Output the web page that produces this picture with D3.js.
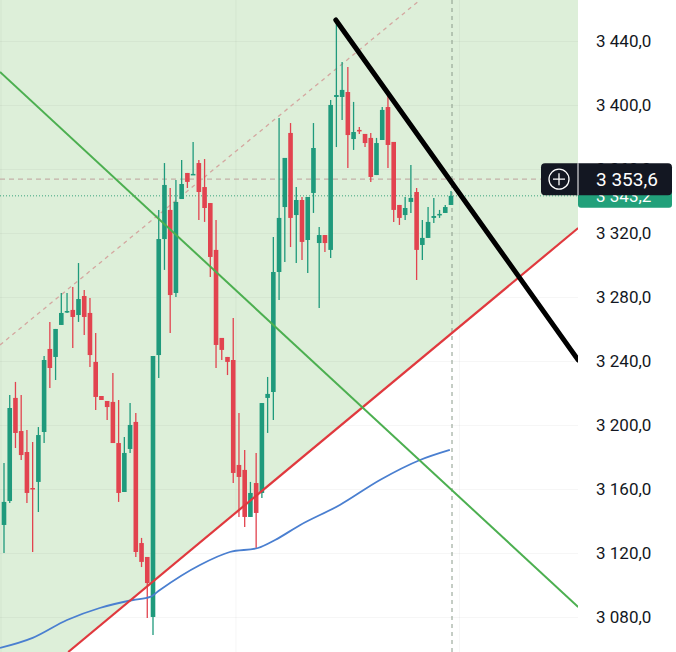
<!DOCTYPE html>
<html>
<head>
<meta charset="utf-8">
<script src="https://cdn.jsdelivr.net/npm/d3@7"></script>
<style>
  body { margin: 0; background: #fff; }
  svg { display: block; font-family: Roboto, "Noto Sans", sans-serif; }
</style>
</head>
<body>
<svg id="chart" width="676" height="652"></svg>
<script>
// candles: open, high, low, close (index = time)
var opens  = [3137.5,3152.5,3216.9,3196.2,3183.1,3160.6,3164.4,3195.6,3247.5,3242.5,3262.5,3270.6,3271.9,3268.7,3280.6,3270.0,3239.4,3218.1,3215.0,3214.4,3188.7,3158.1,3185.0,3201.9,3126.2,3117.5,3080.0,3243.7,3316.2,3334.4,3282.5,3341.2,3357.5,3356.2,3363.7,3348.7,3338.7,3309.4,3254.4,3242.5,3240.6,3175.0,3171.9,3142.5,3163.7,3157.5,3216.9,3220.6,3295.6,3336.2,3382.5,3331.2,3340.6,3315.6,3345.0,3313.7,3318.7,3309.4,3405.0,3405.0,3408.1,3378.7,3384.4,3381.9,3379.4,3356.2,3378.1,3398.7,3376.9,3337.5,3331.2,3339.4,3345.6,3312.5,3316.9,3329.4,3331.2,3332.5,3337.5];
var highs  = [3176.2,3218.7,3226.9,3218.7,3196.9,3189.4,3198.7,3243.1,3264.4,3260.0,3282.5,3282.5,3286.2,3301.2,3284.4,3279.4,3257.5,3218.1,3215.0,3232.5,3215.6,3192.5,3213.7,3207.5,3129.4,3117.5,3243.1,3334.4,3363.7,3348.1,3353.1,3365.6,3357.5,3376.9,3365.6,3366.2,3338.7,3328.1,3254.4,3242.5,3266.9,3207.5,3184.4,3164.4,3182.5,3213.7,3230.0,3317.5,3391.9,3366.9,3388.7,3348.7,3342.5,3342.5,3388.7,3323.7,3318.7,3403.1,3453.1,3426.9,3423.7,3401.9,3386.2,3381.9,3382.5,3379.4,3398.7,3406.2,3376.9,3337.5,3342.5,3362.5,3348.1,3328.1,3336.2,3341.9,3334.4,3337.5,3346.2];
var lows   = [3120.0,3151.2,3185.6,3178.1,3151.2,3120.6,3145.6,3188.7,3223.1,3228.1,3262.5,3270.0,3248.1,3264.4,3256.2,3236.2,3209.4,3215.6,3203.1,3188.7,3151.9,3158.1,3182.5,3117.5,3111.2,3079.4,3068.7,3229.4,3296.9,3257.5,3280.0,3341.2,3348.1,3356.2,3328.1,3326.9,3292.5,3235.6,3240.6,3231.2,3163.7,3142.5,3136.2,3142.5,3123.1,3154.4,3195.0,3203.1,3278.1,3301.9,3311.2,3301.2,3303.1,3295.0,3332.5,3273.1,3308.1,3304.4,3373.7,3390.6,3360.6,3371.9,3381.9,3373.7,3351.9,3356.2,3378.1,3360.6,3326.9,3325.0,3328.1,3332.5,3290.6,3303.1,3316.9,3326.2,3329.4,3332.5,3337.5];
var closes = [3151.9,3210.6,3195.0,3181.2,3157.5,3160.0,3193.7,3240.6,3235.6,3260.0,3270.0,3271.2,3267.5,3278.7,3267.5,3243.7,3217.5,3215.6,3211.2,3188.7,3157.5,3182.5,3200.0,3120.6,3114.4,3101.2,3243.1,3316.2,3350.0,3281.2,3339.4,3350.6,3351.9,3356.9,3345.6,3335.6,3305.0,3250.0,3246.9,3239.4,3170.0,3167.5,3142.5,3157.5,3145.0,3213.7,3219.4,3295.6,3329.4,3366.9,3329.4,3340.6,3314.4,3342.5,3373.1,3318.7,3313.7,3400.0,3406.2,3409.4,3381.2,3383.1,3383.7,3376.2,3355.0,3376.2,3396.9,3375.0,3334.4,3329.4,3335.6,3341.9,3309.4,3316.9,3326.9,3330.6,3331.9,3336.2,3343.2];

// moving average (index, price)
var maPoints = [[-0.7,3060.6],[5,3066.9],[11,3078.1],[16.7,3085.6],[22.5,3090.6],[25.5,3092.5],[27.2,3096.9],[34.2,3112.5],[39.4,3120.6],[44.3,3123.1],[47.3,3128.1],[51.7,3137.5],[58.6,3150.0],[65.6,3165.6],[72.6,3178.1],[77.8,3184.4]];

// drawn lines (index, price)
var redLine   = [[11.2,3058.1],[100.2,3323.1]];
var greenLine = [[-0.7,3420.6],[100.2,3086.2]];
var blackLine = [[57.9,3453.1],[100.2,3240.6]];
var pinkLine  = [[-0.7,3250.0],[72.6,3465.6]];

var priceTicks = [3440,3400,3360,3320,3280,3240,3200,3160,3120,3080];
var lastPrice = 3353.6;
var closePrice = 3343.2;

var W = 676, H = 652, plotW = 578;
var svg = d3.select("#chart");

var x = d3.scaleLinear().domain([0, 78]).range([4, 451]);
var y = d3.scaleLinear().domain([3058.1, 3465.6]).range([H, 0]);
var fmt = function(v){
	var s = v.toFixed(1).replace(".", ",");
	return s.replace(/^(\d)(\d{3})/, "$1 $2");
};

var plot = svg.append("g");
plot.append("defs").append("clipPath").attr("id", "clip")
	.append("rect").attr("width", plotW).attr("height", H);
var g = plot.append("g").attr("clip-path", "url(#clip)");

// green zone above red line
var rx0 = x(redLine[0][0]), ry0 = y(redLine[0][1]);
var rx1 = x(redLine[1][0]), ry1 = y(redLine[1][1]);
g.append("path")
	.attr("d", "M0,0L" + plotW + ",0L" + rx1 + "," + ry1 + "L" + rx0 + "," + ry0 + "L0," + H + "Z")
	.attr("fill", "#ddefd9");

// grid
g.selectAll(".hgrid").data(priceTicks).enter().append("line")
	.attr("x1", 0).attr("x2", plotW)
	.attr("y1", function(d){ return y(d) + 0.5; }).attr("y2", function(d){ return y(d) + 0.5; })
	.attr("stroke", "#000").attr("stroke-opacity", 0.04);
g.selectAll(".vgrid").data([0, 41, 78 + 2]).enter().append("line")
	.attr("x1", function(d){ return x(d) - 3; }).attr("x2", function(d){ return x(d) - 3; })
	.attr("y1", 0).attr("y2", H)
	.attr("stroke", "#000").attr("stroke-opacity", 0.04);

var line = d3.line().x(function(d){ return x(d[0]); }).y(function(d){ return y(d[1]); });

g.append("path").datum(pinkLine).attr("d", line)
	.attr("stroke", "#d4a7a0").attr("stroke-width", 1.3).attr("stroke-dasharray", "4,4").attr("fill", "none");

// price lines
g.append("line").attr("x1", 0).attr("x2", plotW)
	.attr("y1", y(lastPrice)).attr("y2", y(lastPrice))
	.attr("stroke", "#c4b0a8").attr("stroke-width", 1.2).attr("stroke-dasharray", "5,4");
g.append("line").attr("x1", 0).attr("x2", plotW)
	.attr("y1", y(closePrice)).attr("y2", y(closePrice))
	.attr("stroke", "#3aa37d").attr("stroke-width", 1).attr("stroke-dasharray", "1,2");
g.append("line").attr("x1", x(78) + 1).attr("x2", x(78) + 1)
	.attr("y1", 0).attr("y2", H)
	.attr("stroke", "#8a9a8a").attr("stroke-width", 1).attr("stroke-dasharray", "4,4");

// candles
var idx = d3.range(opens.length);
var up = "#1f9a7c", down = "#e2434f";
var col = function(i){ return closes[i] >= opens[i] ? up : down; };
g.selectAll(".wick").data(idx).enter().append("line")
	.attr("x1", function(i){ return x(i); }).attr("x2", function(i){ return x(i); })
	.attr("y1", function(i){ return y(highs[i]); }).attr("y2", function(i){ return y(lows[i]); })
	.attr("stroke", col).attr("stroke-width", 1.3);
g.selectAll(".body").data(idx).enter().append("rect")
	.attr("x", function(i){ return x(i) - 2.3; })
	.attr("width", 4.6)
	.attr("y", function(i){ return y(Math.max(opens[i], closes[i])); })
	.attr("height", function(i){ return Math.max(1.5, Math.abs(y(opens[i]) - y(closes[i]))); })
	.attr("fill", col);

// MA
g.append("path").datum(maPoints).attr("d", d3.line().curve(d3.curveMonotoneX)
		.x(function(d){ return x(d[0]); }).y(function(d){ return y(d[1]); }))
	.attr("stroke", "#4a7fd0").attr("stroke-width", 1.8).attr("fill", "none");

g.append("path").datum(redLine).attr("d", line)
	.attr("stroke", "#e0393e").attr("stroke-width", 2.2).attr("fill", "none");
g.append("path").datum(greenLine).attr("d", line)
	.attr("stroke", "#4caf50").attr("stroke-width", 2).attr("fill", "none");
g.append("path").datum(blackLine).attr("d", line)
	.attr("stroke", "#000").attr("stroke-width", 5).attr("stroke-linecap", "round").attr("fill", "none");

// price axis
var ax = svg.append("g");
ax.append("rect").attr("x", plotW).attr("width", W - plotW).attr("height", H).attr("fill", "#fff");
ax.selectAll(".tick").data(priceTicks).enter().append("text")
	.attr("x", 596).attr("y", function(d){ return y(d) + 6; })
	.attr("font-size", 17).attr("fill", "#131722")
	.text(fmt);

// close label (green) under current label
ax.append("rect").attr("x", plotW).attr("y", y(closePrice) - 12).attr("width", 94).attr("height", 24)
	.attr("rx", 3).attr("fill", "#22a07a");
ax.append("text").attr("x", 596).attr("y", y(closePrice) + 6)
	.attr("font-size", 17).attr("fill", "#fff").text(fmt(closePrice));

// current price label
var ly = y(lastPrice);
ax.append("rect").attr("x", 541).attr("y", ly - 16).attr("width", 131).attr("height", 32)
	.attr("rx", 4).attr("fill", "#131722");
ax.append("line").attr("x1", plotW).attr("x2", plotW).attr("y1", ly - 16).attr("y2", ly + 16)
	.attr("stroke", "#fff").attr("stroke-width", 1);
ax.append("circle").attr("cx", 559).attr("cy", ly).attr("r", 10)
	.attr("fill", "none").attr("stroke", "#fff").attr("stroke-width", 1.3);
ax.append("path").attr("d", "M553," + ly + "H565M559," + (ly - 6) + "V" + (ly + 6))
	.attr("stroke", "#fff").attr("stroke-width", 1.3);
ax.append("text").attr("x", 596).attr("y", ly + 7)
	.attr("font-size", 19).attr("fill", "#fff").text(fmt(lastPrice));
</script>
</body>
</html>
